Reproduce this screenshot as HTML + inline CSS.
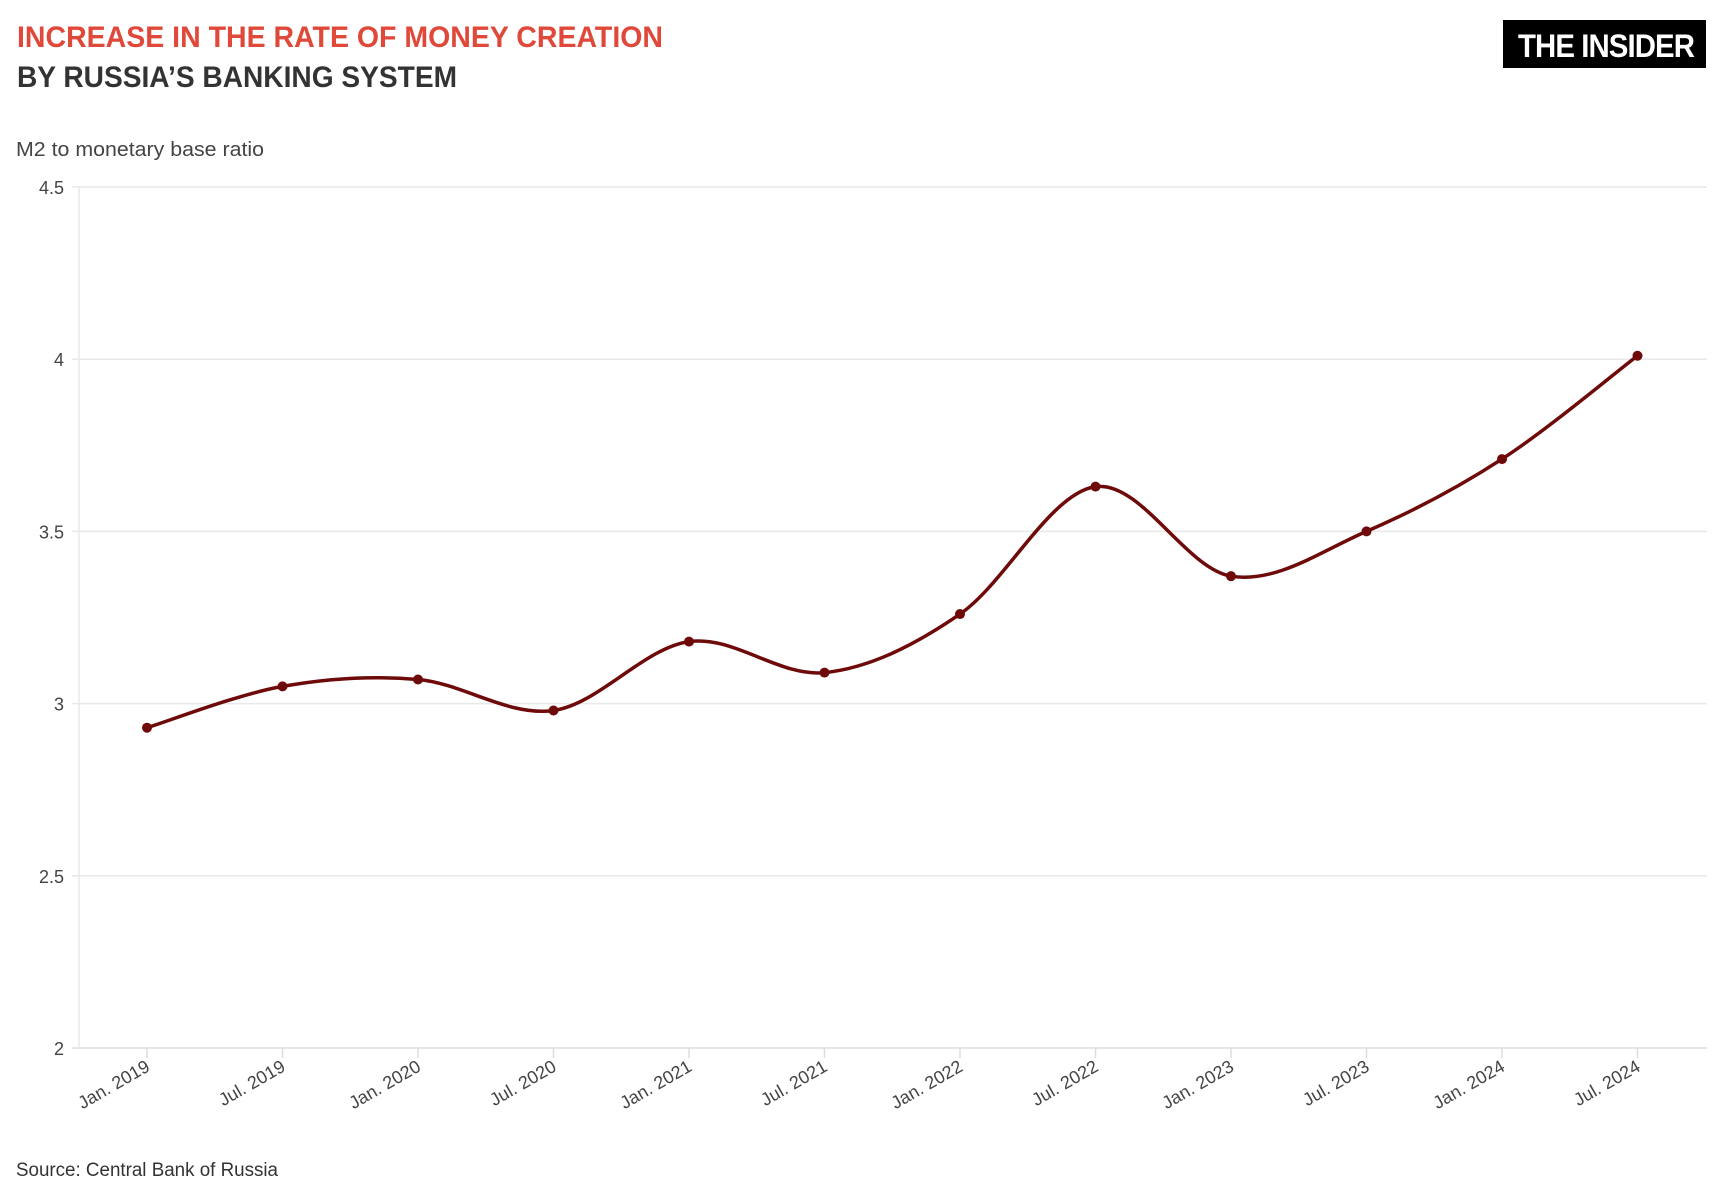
<!DOCTYPE html>
<html><head><meta charset="utf-8"><style>
html,body{margin:0;padding:0;background:#fff;}
svg{display:block;font-family:"Liberation Sans",sans-serif;}
</style></head><body>
<svg id="s" width="1732" height="1191" viewBox="0 0 1732 1191">
<text x="17" y="47" font-size="30" font-weight="bold" fill="#e0483a" textLength="646" lengthAdjust="spacingAndGlyphs">INCREASE IN THE RATE OF MONEY CREATION</text>
<text x="17" y="87" font-size="30" font-weight="bold" fill="#333" textLength="440" lengthAdjust="spacingAndGlyphs">BY RUSSIA’S BANKING SYSTEM</text>
<rect x="1503" y="20" width="203" height="48" fill="#000"/>
<text x="1518" y="57" font-size="32" font-weight="bold" fill="#fff" textLength="176" lengthAdjust="spacingAndGlyphs" letter-spacing="-1">THE INSIDER</text>
<text x="16" y="156" font-size="20" fill="#444" textLength="248" lengthAdjust="spacingAndGlyphs">M2 to monetary base ratio</text>
<g id="grid"></g>
<path id="line" fill="none" stroke="#6e0a0a" stroke-width="3.5"/>
<g id="pts"></g>
<text x="16" y="1176" font-size="19" fill="#333" textLength="262" lengthAdjust="spacingAndGlyphs">Source: Central Bank of Russia</text>
</svg>
<script>
var NS="http://www.w3.org/2000/svg";
function el(t,a,p,txt){var e=document.createElementNS(NS,t);for(var k in a)e.setAttribute(k,a[k]);if(txt)e.textContent=txt;document.getElementById(p).appendChild(e);return e;}
function Y(v){return 1048-(v-2)*344.4;}
function X(i){return 147+i*135.5;}
var ylab=["2","2.5","3","3.5","4","4.5"];
for(var i=0;i<6;i++){var y=Y(2+i*0.5);
 el("line",{x1:72,x2:1707,y1:y,y2:y,stroke:i==0?"#ddd":"#e8e8e8","stroke-width":1.5},"grid");
 el("text",{x:64,y:y+7,"font-size":18,fill:"#444","text-anchor":"end"},"grid",ylab[i]);}
el("line",{x1:79,x2:79,y1:186,y2:1048,stroke:"#e8e8e8","stroke-width":1.5},"grid");
var labs=["Jan. 2019","Jul. 2019","Jan. 2020","Jul. 2020","Jan. 2021","Jul. 2021","Jan. 2022","Jul. 2022","Jan. 2023","Jul. 2023","Jan. 2024","Jul. 2024"];
for(var i=0;i<12;i++){var x=X(i);
 el("line",{x1:x,x2:x,y1:1048,y2:1058,stroke:"#ddd","stroke-width":1.5},"grid");
 el("text",{x:x+4,y:1070,"font-size":18,fill:"#444","text-anchor":"end",transform:"rotate(-30 "+(x+4)+" 1070)"},"grid",labs[i]);}
var d=[2.93,3.05,3.07,2.98,3.18,3.09,3.26,3.63,3.37,3.50,3.71,4.01];
var P=d.map(function(v,i){return [X(i),Y(v)];});
var s="M"+P[0][0]+","+P[0][1];
for(var i=0;i<P.length-1;i++){var p0=P[Math.max(i-1,0)],p1=P[i],p2=P[i+1],p3=P[Math.min(i+2,P.length-1)];
 var t=6;
 s+=" C"+(p1[0]+(p2[0]-p0[0])/t)+","+(p1[1]+(p2[1]-p0[1])/t)+" "+(p2[0]-(p3[0]-p1[0])/t)+","+(p2[1]-(p3[1]-p1[1])/t)+" "+p2[0]+","+p2[1];}
document.getElementById("line").setAttribute("d",s);
P.forEach(function(p){el("circle",{cx:p[0],cy:p[1],r:5,fill:"#6e0a0a"},"pts");});
</script>
</body></html>
